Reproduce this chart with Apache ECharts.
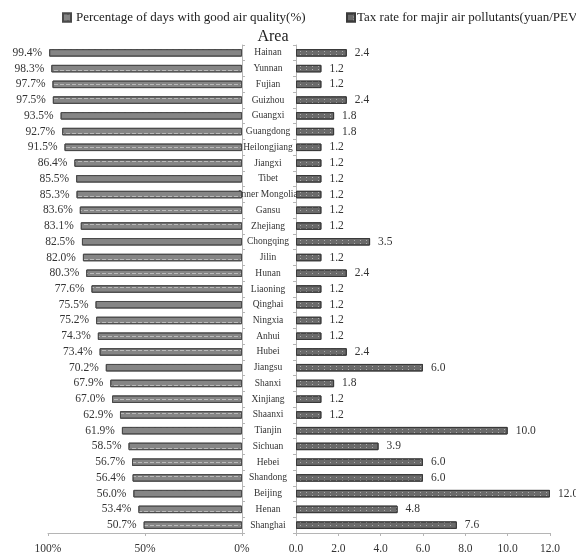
<!DOCTYPE html>
<html><head><meta charset="utf-8">
<script src="https://cdn.jsdelivr.net/npm/echarts@6/dist/echarts.min.js"></script>
<style>html,body{margin:0;padding:0;background:#fff}#c{width:576px;height:556px}</style>
</head><body><div id="c"></div>
<script>
const areas = ['Hainan','Yunnan','Fujian','Guizhou','Guangxi','Guangdong','Heilongjiang','Jiangxi','Tibet','Inner Mongolia','Gansu','Zhejiang','Chongqing','Jilin','Hunan','Liaoning','Qinghai','Ningxia','Anhui','Hubei','Jiangsu','Shanxi','Xinjiang','Shaanxi','Tianjin','Sichuan','Hebei','Shandong','Beijing','Henan','Shanghai'];
const goodDays = [99.4,98.3,97.7,97.5,93.5,92.7,91.5,86.4,85.5,85.3,83.6,83.1,82.5,82.0,80.3,77.6,75.5,75.2,74.3,73.4,70.2,67.9,67.0,62.9,61.9,58.5,56.7,56.4,56.0,53.4,50.7];
const taxRate = [2.4,1.2,1.2,2.4,1.8,1.8,1.2,1.2,1.2,1.2,1.2,1.2,3.5,1.2,2.4,1.2,1.2,1.2,1.2,2.4,6.0,1.8,1.2,1.2,10.0,3.9,6.0,6.0,12.0,4.8,7.6];
const seriesNames = ['Percentage of days with good air quality(%)','Tax rate for majir air pollutants(yuan/PEV)'];
const titleText = 'Area';

const FONT = '"Liberation Serif","DejaVu Serif",serif';
const chart = echarts.init(document.getElementById('c'));
const axisLineStyle = {color:'#b5b5b5', width:1};
chart.setOption({
  animation:false,
  title:{text:titleText, left:268, top:24, textAlign:'center',
    textStyle:{fontFamily:FONT, fontWeight:'normal', fontSize:16, color:'#222'}},
  legend:[
    {left:57, top:6, data:[seriesNames[0]], itemWidth:8, itemHeight:8, icon:'rect',
      textStyle:{fontFamily:FONT, fontSize:13, color:'#222'}},
    {left:341, top:6, data:[seriesNames[1]], itemWidth:8, itemHeight:8, icon:'rect',
      textStyle:{fontFamily:FONT, fontSize:13, color:'#222', padding:[0,0,0,-3]}}
  ],
  grid:[
    {left:48, right:334, top:45, bottom:23},
    {left:296, right:26, top:45, bottom:23}
  ],
  xAxis:[
    {gridIndex:0, type:'value', min:0, max:100, interval:50, inverse:true,
      axisLine:{show:true, lineStyle:axisLineStyle}, axisTick:{show:true, length:3, lineStyle:axisLineStyle},
      splitLine:{show:false},
      axisLabel:{formatter:v=>v+'%', fontFamily:FONT, fontSize:11.5, color:'#333', margin:10}},
    {gridIndex:1, type:'value', min:0, max:12, interval:2,
      axisLine:{show:true, lineStyle:axisLineStyle}, axisTick:{show:true, length:3, lineStyle:axisLineStyle},
      splitLine:{show:false},
      axisLabel:{formatter:v=>v.toFixed(1), fontFamily:FONT, fontSize:11.5, color:'#333', margin:10}}
  ],
  yAxis:[
    {gridIndex:0, type:'category', data:areas, inverse:true, position:'right',
      axisLine:{show:true, lineStyle:axisLineStyle}, axisTick:{show:true, length:3, lineStyle:axisLineStyle},
      axisLabel:{show:true, align:'center', margin:26, fontFamily:FONT, fontSize:9.5, color:'#333', interval:0}},
    {gridIndex:1, type:'category', data:areas, inverse:true,
      axisLine:{show:true, lineStyle:axisLineStyle}, axisTick:{show:true, length:3, lineStyle:axisLineStyle},
      axisLabel:{show:false}}
  ],
  series:[
    {name:seriesNames[0], type:'bar', xAxisIndex:0, yAxisIndex:0, data:goodDays, barWidth:7.5,
      itemStyle:{color:'#858585', borderColor:'#4a4a4a', borderWidth:1,
        decal:{symbol:'rect', color:'rgba(230,230,230,0.55)', dashArrayX:[4,2], dashArrayY:[1,6], symbolSize:1, rotation:0}},
      label:{show:true, position:'left', distance:7, formatter:p=>p.value.toFixed(1)+'%',
        fontFamily:FONT, fontSize:11.5, color:'#333'}},
    {name:seriesNames[1], type:'bar', xAxisIndex:1, yAxisIndex:1, data:taxRate, barWidth:7.5,
      itemStyle:{color:'#6a6a6a', borderColor:'#3a3a3a', borderWidth:1,
        decal:{symbol:'circle', color:'rgba(235,235,235,0.7)', dashArrayX:[[1,5]], dashArrayY:[1,2], symbolSize:1}},
      label:{show:true, position:'right', distance:8, formatter:p=>p.value.toFixed(1),
        fontFamily:FONT, fontSize:11.5, color:'#333'}}
  ]
});
</script></body></html>
